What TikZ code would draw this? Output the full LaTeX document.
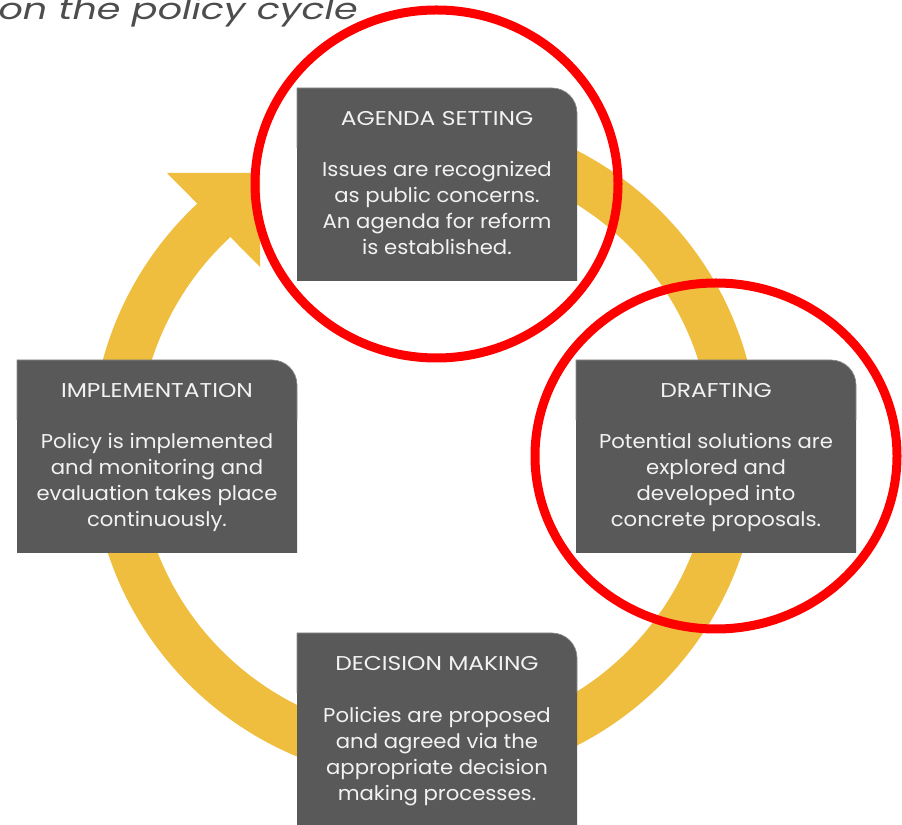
\documentclass[tikz,border=0pt]{standalone}
\usepackage{fontspec}
\setmainfont{Poppins}[FakeStretch=1.06]
\newfontfamily\titlefont{Poppins}[FakeStretch=1.17]
\newfontfamily\headingfont{Poppins}[FakeStretch=1.3]
\definecolor{ringcol}{HTML}{F0BE3E}
\definecolor{boxcol}{HTML}{595959}
\definecolor{edgecol}{HTML}{8C8C8C}
\definecolor{txtcol}{HTML}{F2F2F2}
\definecolor{headcol}{HTML}{4D4D4D}
\definecolor{markcol}{HTML}{FF0000}
\tikzset{
  stagetitle/.style={anchor=base, inner sep=0pt, text=txtcol, font=\titlefont\fontsize{15}{19.5}\selectfont},
  stagebody/.style={anchor=base, inner sep=0pt, align=center, text=txtcol, font=\fontsize{15}{19.5}\selectfont},
  marker/.style={draw=markcol, line width=6.75pt},
}
% #1 name, #2 left x, #3 top y, #4 title, #5 description (placed by its last line)
\newcommand\stagebox[5]{%
  \fill[boxcol] (#2,#3-193) -- (#2,#3) -- (#2+255,#3)
    arc[start angle=90, end angle=0, radius=25] -- (#2+280,#3-193) -- cycle;
  \draw[edgecol, line width=0.5pt] (#2,#3-60) -- (#2,#3) -- (#2+255,#3)
    arc[start angle=90, end angle=0, radius=25] -- (#2+280,#3-60);
  \node[stagetitle] (#1-title) at (#2+140,#3-38) {#4};
  \node[stagebody] (#1-body) at (#2+140,#3-167) {#5};
}
\begin{document}
\begin{tikzpicture}[x=0.75pt,y=0.75pt]
\useasboundingbox (0,0) rectangle (902,824);

% heading
\node[anchor=base east, inner sep=0pt, text=headcol,
      font=\headingfont\fontsize{22}{26}\selectfont\itshape] (heading) at (358,804) {on the policy cycle};

% cycle ring with its arrow head
\draw[ringcol, line width=35.25pt] (425,376) ++(100:310.5)
  arc[start angle=100, end angle=-228, radius=310.5];
\fill[ringcol] (167,651) -- (260,651) -- (260,557) -- cycle;

% the four stages
\stagebox{agenda}{297}{736}{AGENDA SETTING}{Issues are recognized\\as public concerns.\\An agenda for reform\\is established.}
\stagebox{impl}{17}{464}{IMPLEMENTATION}{Policy is implemented\\and monitoring and\\evaluation takes place\\continuously.}
\stagebox{draft}{576}{464}{DRAFTING}{Potential solutions are\\explored and\\developed into\\concrete proposals.}
\stagebox{decision}{297}{191}{DECISION MAKING}{Policies are proposed\\and agreed via the\\appropriate decision\\making processes.}

% highlight rings
\draw[marker] (436.5,640) ellipse[x radius=181.5, y radius=174];
\draw[marker] (716,368) ellipse[x radius=181, y radius=173];
\end{tikzpicture}
\end{document}
